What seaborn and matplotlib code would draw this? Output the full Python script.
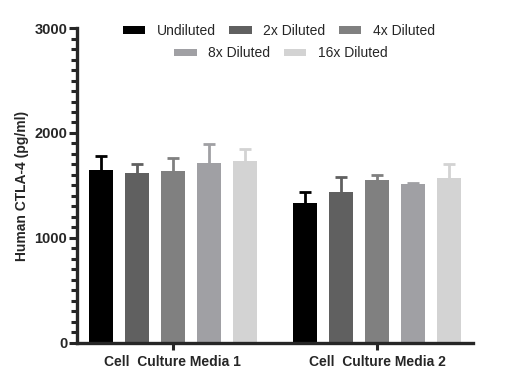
import matplotlib
matplotlib.use("Agg")
import matplotlib.pyplot as plt
import seaborn as sns
import pandas as pd
import numpy as np
from matplotlib.patches import Patch
from matplotlib.ticker import MultipleLocator

groups = ["Cell  Culture Media 1", "Cell  Culture Media 2"]
dilutions = ["Undiluted", "2x Diluted", "4x Diluted", "8x Diluted", "16x Diluted"]
colors = ["#000000", "#606060", "#808080", "#a0a0a4", "#d3d3d3"]
means_media1 = [1648, 1622, 1638, 1714, 1733]
sd_media1 = [136, 83, 121, 181, 112]
means_media2 = [1333, 1441, 1552, 1517, 1571]
sd_media2 = [102, 137, 48, 10, 137]

rows = []
for g, ms, ss in [(groups[0], means_media1, sd_media1), (groups[1], means_media2, sd_media2)]:
    for d, m, s in zip(dilutions, ms, ss):
        rows.append({"group": g, "dilution": d, "value": m, "sd": s})
df = pd.DataFrame(rows)

sns.set_style("ticks")
plt.rcParams["font.family"] = ["Liberation Sans", "DejaVu Sans"]

fig = plt.figure(figsize=(5.18, 3.89), dpi=100)
ax = fig.add_axes([0.1486, 0.1183, 0.913 - 0.1486, 0.928 - 0.1183])

sns.barplot(data=df, x="group", y="value", hue="dilution", order=groups,
            hue_order=dilutions, palette=colors, width=0.88, gap=0.33,
            errorbar=None, saturation=1, legend=False, ax=ax, edgecolor="none")

# error bars (upper only) from bar positions
for patch_container, d, c in zip(ax.containers, dilutions, colors):
    sub = df[df["dilution"] == d].set_index("group").loc[groups]
    for bar, (m, s) in zip(patch_container.patches, zip(sub["value"], sub["sd"])):
        xc = bar.get_x() + bar.get_width() / 2
        _, caps, _ = ax.errorbar([xc], [m], yerr=[[0], [s]], fmt="none", ecolor=c,
                                 elinewidth=2, capsize=4.5, capthick=2, zorder=1)
        caps[0].set_visible(False)

ax.set_xlim(-0.47, 1.47)
ax.set_ylim(0, 3000)
ax.yaxis.set_major_locator(MultipleLocator(1000))
ax.yaxis.set_minor_locator(MultipleLocator(100))
sns.despine(ax=ax)
for sp in ["left", "bottom"]:
    ax.spines[sp].set_linewidth(2.4)
ax.tick_params(axis="y", which="major", length=6, width=2.2, labelsize=10.5, pad=1)
ax.tick_params(axis="y", which="minor", length=4, width=2.2)
ax.tick_params(axis="x", which="major", length=5, width=2.2, labelsize=10, pad=4)
for lab in ax.get_xticklabels() + ax.get_yticklabels():
    lab.set_fontweight("bold")
ax.set_xlabel("")
ax.set_ylabel("Human CTLA-4 (pg/ml)", fontsize=10, fontweight="bold", labelpad=4)

h1 = [Patch(facecolor=c, edgecolor="none") for c in colors[:3]]
h2 = [Patch(facecolor=c, edgecolor="none") for c in colors[3:]]
leg_kw = dict(frameon=False, fontsize=10, handlelength=1.6, handleheight=0.45,
              handletextpad=0.85, columnspacing=0.95, borderaxespad=0, borderpad=0)
leg1 = ax.legend(h1, dilutions[:3], ncol=3, loc="center", bbox_to_anchor=(0.51, 0.99), **leg_kw)
ax.add_artist(leg1)
ax.legend(h2, dilutions[3:], ncol=2, loc="center", bbox_to_anchor=(0.515, 0.92), **leg_kw)

fig.savefig("out.png", dpi=100)
